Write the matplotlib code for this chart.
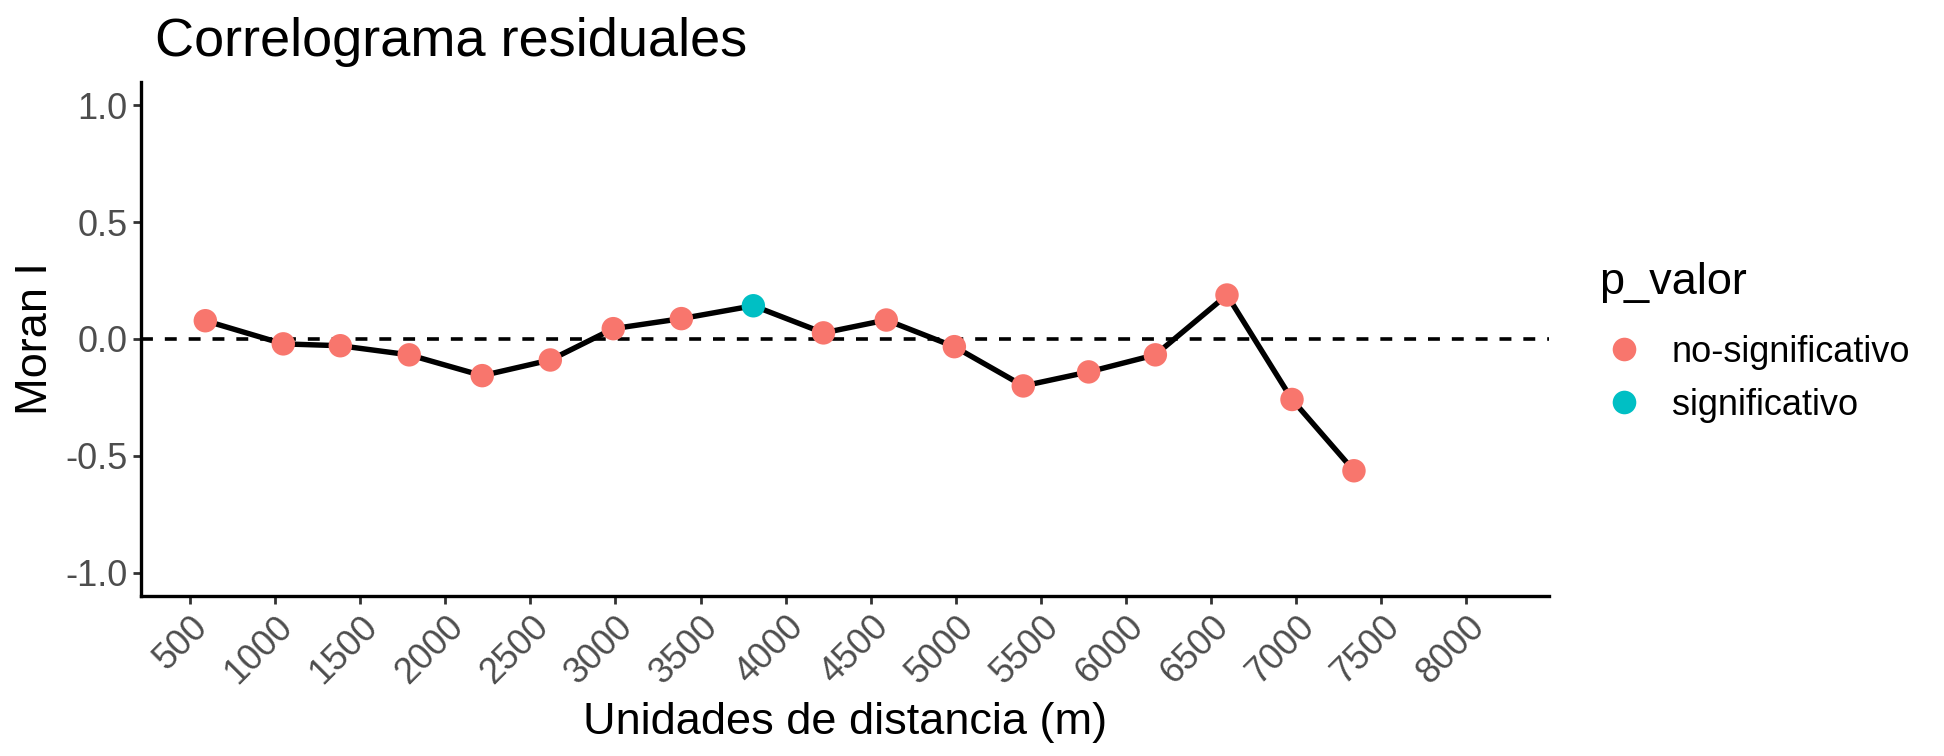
import numpy as np
import matplotlib
matplotlib.use("Agg")
import matplotlib.pyplot as plt
from matplotlib.lines import Line2D
from matplotlib.transforms import ScaledTranslation

plt.rcParams['font.family'] = ['Liberation Sans', 'DejaVu Sans']

distancia = [590, 1048, 1383, 1788, 2217, 2617, 2987, 3387, 3810, 4222,
             4591, 4991, 5396, 5780, 6172, 6593, 6975, 7339]
moran_i = [0.078, -0.021, -0.029, -0.068, -0.157, -0.090, 0.044, 0.087, 0.142,
           0.026, 0.081, -0.033, -0.201, -0.141, -0.068, 0.188, -0.259, -0.564]
p_valor = ['no-significativo'] * 8 + ['significativo'] + ['no-significativo'] * 9

categorias = ['no-significativo', 'significativo']
colores = {'no-significativo': '#F8766D', 'significativo': '#00BFC4'}
x_ticks = list(range(500, 8001, 500))
y_ticks = [-1.0, -0.5, 0.0, 0.5, 1.0]

fig = plt.figure(figsize=(19.44, 7.56), dpi=100)
ax = fig.add_axes([0.07253, 0.2116, 0.72428, 0.6801])

ax.axhline(0, color='black', lw=2.6, dashes=(3.3, 3.3), zorder=1)
ax.plot(distancia, moran_i, color='black', lw=3.9, zorder=2)
ax.scatter(distancia, moran_i, c=[colores[p] for p in p_valor], s=285,
           linewidths=0, zorder=3)

ax.set_xlim(212, 8485)
ax.set_ylim(-1.1, 1.1)
ax.set_xticks(x_ticks)
ax.set_xticklabels([str(t) for t in x_ticks], rotation=45, ha='right', va='top',
                   rotation_mode='anchor')
shift = ScaledTranslation(3 / 100, 0, fig.dpi_scale_trans)
for lab in ax.get_xticklabels():
    lab.set_transform(lab.get_transform() + shift)
ax.set_yticks(y_ticks)
ax.set_yticklabels(['%.1f' % t for t in y_ticks])

for s in ['top', 'right']:
    ax.spines[s].set_visible(False)
for s in ['left', 'bottom']:
    ax.spines[s].set_linewidth(2.4)
ax.tick_params(axis='both', length=5.5, width=2, color='#333333',
               labelsize=26, labelcolor='#4D4D4D', pad=4)

ax.set_xlabel('Unidades de distancia (m)', fontsize=32.5, labelpad=8)
ax.set_ylabel('Moran I', fontsize=32.5, labelpad=7)

fig.text(0.0797, 1 - 56 / 756, 'Correlograma residuales', fontsize=39,
         va='baseline', ha='left')

handles = [Line2D([], [], ls='none', marker='o', markersize=17,
                  markerfacecolor=colores[c], markeredgewidth=0) for c in categorias]
leg = fig.legend(handles, categorias, title='p_valor', loc='upper left',
                 bbox_to_anchor=(1599 / 1944, 1 - 262 / 756), frameon=False,
                 fontsize=26, title_fontsize=32.5, handlelength=1.4,
                 handletextpad=0.62, labelspacing=0.5, borderpad=0,
                 borderaxespad=0, alignment='left')
leg._legend_box.sep = 0.5 * 26 + 10

fig.savefig('out.png', dpi=100)
